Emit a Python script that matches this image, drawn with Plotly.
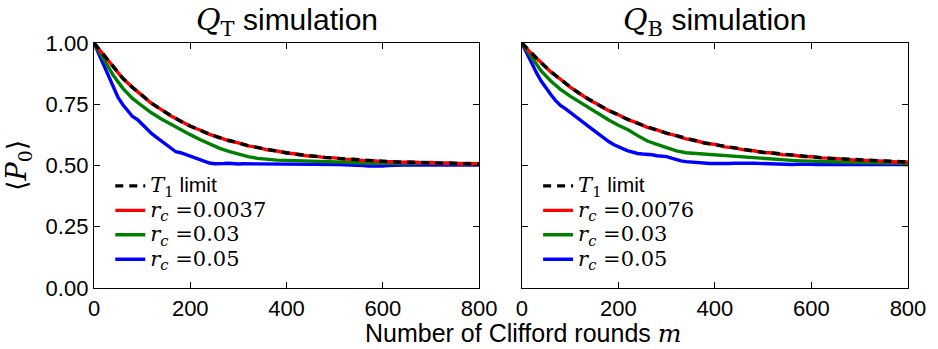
import plotly.graph_objects as go

# Clifford round numbers at which the averaged survival probability is sampled
rounds = list(range(0, 801, 20))
rounds_fine = list(range(0, 801, 10))

# ---- Q_T simulation ----
qt_t1_limit = [1.000, 0.951, 0.900, 0.856, 0.818, 0.784, 0.754, 0.727, 0.703, 0.681,
               0.661, 0.644, 0.628, 0.614, 0.602, 0.591, 0.581, 0.573, 0.565, 0.558,
               0.552, 0.546, 0.541, 0.537, 0.533, 0.530, 0.527, 0.524, 0.521, 0.519,
               0.517, 0.515, 0.514, 0.513, 0.512, 0.511, 0.510, 0.509, 0.508, 0.507,
               0.506]
qt_rc_low = [1.000, 0.952, 0.901, 0.855, 0.819, 0.785, 0.753, 0.728, 0.702, 0.682,
             0.660, 0.645, 0.627, 0.615, 0.601, 0.592, 0.580, 0.574, 0.564, 0.559,
             0.551, 0.547, 0.540, 0.538, 0.532, 0.531, 0.526, 0.525, 0.520, 0.520,
             0.516, 0.516, 0.513, 0.514, 0.511, 0.512, 0.509, 0.510, 0.507, 0.508,
             0.506]
qt_rc_mid = [1.000, 0.933, 0.868, 0.815, 0.774, 0.743, 0.714, 0.690, 0.668, 0.647,
             0.626, 0.606, 0.588, 0.571, 0.558, 0.546, 0.536, 0.529, 0.524, 0.522,
             0.521, 0.520, 0.520, 0.519, 0.518, 0.516, 0.514, 0.512, 0.510, 0.508,
             0.509, 0.510, 0.510, 0.509, 0.509, 0.508, 0.508, 0.508, 0.507, 0.507,
             0.507]
# sampled every 10 rounds (rounds_fine)
qt_rc_high = [1.000, 0.955, 0.910, 0.862, 0.818, 0.778, 0.748, 0.722, 0.700, 0.688,
              0.668, 0.650, 0.630, 0.615, 0.600, 0.588, 0.570, 0.556, 0.552, 0.545,
              0.538, 0.533, 0.524, 0.518, 0.510, 0.507, 0.509, 0.508, 0.509, 0.507,
              0.506, 0.507, 0.507, 0.505, 0.505, 0.506, 0.506, 0.505, 0.504, 0.505,
              0.505, 0.506, 0.507, 0.506, 0.505, 0.504, 0.504, 0.505, 0.506, 0.505,
              0.505, 0.504, 0.503, 0.503, 0.502, 0.501, 0.500, 0.498, 0.497, 0.496,
              0.498, 0.500, 0.501, 0.502, 0.502, 0.503, 0.503, 0.502, 0.501, 0.502,
              0.502, 0.503, 0.503, 0.502, 0.501, 0.502, 0.502, 0.501, 0.501, 0.502,
              0.502]

# ---- Q_B simulation ----
qb_t1_limit = [1.000, 0.957, 0.919, 0.883, 0.851, 0.821, 0.793, 0.768, 0.746, 0.725,
               0.706, 0.688, 0.672, 0.657, 0.644, 0.632, 0.621, 0.610, 0.601, 0.592,
               0.585, 0.577, 0.571, 0.565, 0.559, 0.554, 0.550, 0.545, 0.542, 0.538,
               0.535, 0.532, 0.529, 0.527, 0.524, 0.522, 0.520, 0.519, 0.517, 0.515,
               0.514]
qb_rc_low = [1.000, 0.956, 0.920, 0.882, 0.852, 0.820, 0.794, 0.767, 0.747, 0.724,
             0.707, 0.687, 0.673, 0.656, 0.645, 0.631, 0.622, 0.609, 0.602, 0.591,
             0.586, 0.576, 0.572, 0.564, 0.560, 0.553, 0.551, 0.544, 0.543, 0.537,
             0.536, 0.531, 0.530, 0.526, 0.525, 0.521, 0.521, 0.518, 0.518, 0.514,
             0.515]
qb_rc_mid = [1.000, 0.940, 0.886, 0.845, 0.811, 0.783, 0.758, 0.736, 0.712, 0.686,
             0.664, 0.646, 0.622, 0.600, 0.586, 0.574, 0.560, 0.552, 0.549, 0.545,
             0.542, 0.539, 0.536, 0.533, 0.530, 0.528, 0.525, 0.523, 0.521, 0.519,
             0.517, 0.516, 0.515, 0.514, 0.513, 0.512, 0.511, 0.510, 0.510, 0.509,
             0.509]
# sampled every 10 rounds (rounds_fine)
qb_rc_high = [1.000, 0.958, 0.918, 0.880, 0.845, 0.815, 0.790, 0.765, 0.745, 0.732,
              0.716, 0.700, 0.684, 0.672, 0.657, 0.642, 0.626, 0.610, 0.598, 0.586,
              0.576, 0.568, 0.560, 0.553, 0.549, 0.547, 0.546, 0.544, 0.540, 0.538,
              0.536, 0.530, 0.524, 0.519, 0.516, 0.514, 0.512, 0.510, 0.509, 0.508,
              0.508, 0.507, 0.507, 0.508, 0.509, 0.510, 0.510, 0.509, 0.509, 0.508,
              0.507, 0.506, 0.506, 0.505, 0.505, 0.504, 0.504, 0.505, 0.506, 0.506,
              0.505, 0.504, 0.504, 0.504, 0.505, 0.506, 0.506, 0.505, 0.504, 0.504,
              0.505, 0.504, 0.504, 0.503, 0.503, 0.504, 0.504, 0.503, 0.503, 0.503,
              0.504]

x_ticks = [0, 200, 400, 600, 800]
y_ticks = [0.0, 0.25, 0.5, 0.75, 1.0]
y_tick_text = ["0.00", "0.25", "0.50", "0.75", "1.00"]

SERIF = "DejaVu Serif"
SANS = "Liberation Sans, Arial, sans-serif"


def math(s):
    return f'<span style="font-family:{SERIF}">{s}</span>'


def big(s):
    # legend rows are spaced from the legend font size; the label itself is drawn larger
    return f'<span style="font-size:21px">{s}</span>'


def rc_label(v):
    return big(math("<i>r</i><sub><i>c</i></sub> =" + v))


t1_label = big(math("<i>T</i><sub>1</sub>") + " limit")

panels = [
    (qt_t1_limit, qt_rc_low, qt_rc_mid, qt_rc_high, "0.0037", "x", "y", "legend"),
    (qb_t1_limit, qb_rc_low, qb_rc_mid, qb_rc_high, "0.0076", "x2", "y2", "legend2"),
]

fig = go.Figure()
for t1, low, mid, high, low_rate, xa, ya, leg in panels:
    # drawn back to front: blue, green, red, then the dashed T1 curve on top
    fig.add_trace(go.Scatter(x=rounds_fine, y=high, mode="lines", name=rc_label("0.05"),
                             line=dict(color="#0000ff", width=3.4), xaxis=xa, yaxis=ya,
                             legend=leg, legendrank=4))
    fig.add_trace(go.Scatter(x=rounds, y=mid, mode="lines", name=rc_label("0.03"),
                             line=dict(color="#008000", width=3.4), xaxis=xa, yaxis=ya,
                             legend=leg, legendrank=3))
    fig.add_trace(go.Scatter(x=rounds, y=low, mode="lines", name=rc_label(low_rate),
                             line=dict(color="#ff0000", width=3.4), xaxis=xa, yaxis=ya,
                             legend=leg, legendrank=2))
    fig.add_trace(go.Scatter(x=rounds, y=t1, mode="lines", name=t1_label,
                             line=dict(color="#000000", width=3.4, dash="8px,6px"),
                             xaxis=xa, yaxis=ya, legend=leg, legendrank=1))

axis_common = dict(
    showline=True, linecolor="black", linewidth=1.3, mirror="allticks",
    ticks="inside", ticklen=6, tickwidth=1.2, tickcolor="black",
    showgrid=False, zeroline=False,
    tickfont=dict(family=SANS, size=22, color="black"),
)

legend_common = dict(y=0.487, xanchor="left", yanchor="top", bgcolor="rgba(0,0,0,0)",
                     font=dict(family=SANS, size=16.5), tracegroupgap=0)

fig.update_layout(
    width=938, height=349,
    margin=dict(l=94, r=24, t=43, b=61),
    paper_bgcolor="white", plot_bgcolor="white",
    font=dict(family=SANS, color="black"),
    xaxis=dict(domain=[0, 0.473], range=[0, 800], tickvals=x_ticks, anchor="y", **axis_common),
    xaxis2=dict(domain=[0.5256, 1], range=[0, 800], tickvals=x_ticks, anchor="y2", **axis_common),
    yaxis=dict(domain=[0, 1], range=[0, 1], tickvals=y_ticks, ticktext=y_tick_text,
               anchor="x", **axis_common),
    yaxis2=dict(domain=[0, 1], range=[0, 1], tickvals=y_ticks, showticklabels=False,
                anchor="x2", **axis_common),
    legend=dict(x=0.02, **legend_common),
    legend2=dict(x=0.5456, **legend_common),
    annotations=[
        dict(text=math("<i>Q</i><sub>T</sub>") + " simulation", x=0.2365, y=1.0,
             xref="paper", yref="paper", xanchor="center", yanchor="bottom", yshift=0,
             showarrow=False, font=dict(family=SANS, size=30)),
        dict(text=math("<i>Q</i><sub>B</sub>") + " simulation", x=0.7628, y=1.0,
             xref="paper", yref="paper", xanchor="center", yanchor="bottom", yshift=0,
             showarrow=False, font=dict(family=SANS, size=30)),
        dict(text="Number of Clifford rounds " + math("<i>m</i>"), x=0.527, y=0,
             xref="paper", yref="paper", xanchor="center", yanchor="top", yshift=-29,
             showarrow=False, font=dict(family=SANS, size=25)),
        dict(text=math("⟨<i>P</i><sub>0</sub>⟩"), x=0, y=0.5, xref="paper", yref="paper",
             xanchor="right", xshift=-56, textangle=-90, showarrow=False,
             font=dict(family=SANS, size=27)),
    ],
)

fig.write_html("out.html")
